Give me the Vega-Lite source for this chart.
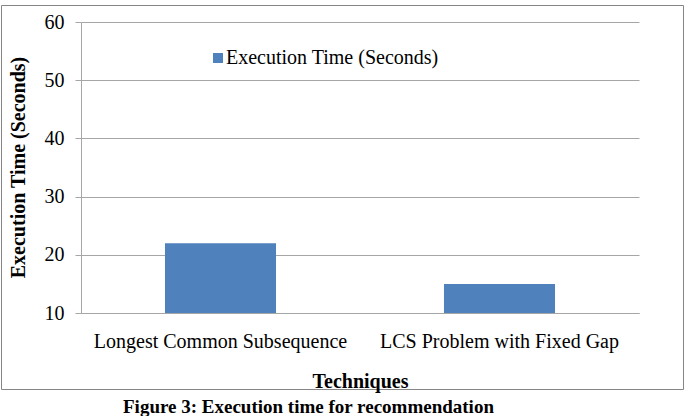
{
  "$schema": "https://vega.github.io/schema/vega-lite/v6.json",
  "width": 682,
  "height": 384,
  "padding": {"left": 1, "top": 5, "right": 4, "bottom": 2},
  "background": "white",
  "title": {
    "text": "Figure 3: Execution time for recommendation",
    "orient": "bottom",
    "anchor": "start",
    "dx": 122,
    "offset": 7,
    "font": "Liberation Serif",
    "fontSize": 19,
    "fontWeight": "bold",
    "color": "#000000"
  },
  "data": {
    "values": [
      {"technique": "Longest Common Subsequence", "time": 22, "series": "Execution Time (Seconds)"},
      {"technique": "LCS Problem with Fixed Gap", "time": 15, "series": "Execution Time (Seconds)"}
    ]
  },
  "mark": {"type": "bar"},
  "encoding": {
    "x": {
      "field": "technique",
      "type": "nominal",
      "sort": null,
      "scale": {"range": [80, 638], "paddingInner": 0.602, "paddingOuter": 0.301},
      "axis": {
        "orient": "bottom",
        "offset": -76,
        "ticks": false,
        "domainColor": "#a6a6a6",
        "labelAngle": 0,
        "labelLimit": 0,
        "labelPadding": 18,
        "labelFont": "Liberation Serif",
        "labelFontSize": 20,
        "labelColor": "#000000",
        "title": "Techniques",
        "titleFont": "Liberation Serif",
        "titleFontSize": 20,
        "titleFontWeight": "bold",
        "titleColor": "#000000",
        "titleY": 68,
        "titleBaseline": "middle"
      }
    },
    "y": {
      "field": "time",
      "type": "quantitative",
      "scale": {"domain": [10, 60], "range": [308, 17], "zero": false, "nice": false},
      "axis": {
        "orient": "left",
        "offset": -80,
        "values": [10, 20, 30, 40, 50, 60],
        "grid": true,
        "gridColor": "#a6a6a6",
        "domainColor": "#a6a6a6",
        "tickColor": "#a6a6a6",
        "tickSize": 6,
        "labelPadding": 11,
        "labelFont": "Liberation Serif",
        "labelFontSize": 20,
        "labelColor": "#000000",
        "title": "Execution Time (Seconds)",
        "titleFont": "Liberation Serif",
        "titleFontSize": 20,
        "titleFontWeight": "bold",
        "titleColor": "#000000",
        "titleX": -63,
        "titleY": 162,
        "titleBaseline": "middle",
        "titleLimit": 0
      }
    },
    "y2": {"datum": 10},
    "color": {
      "field": "series",
      "type": "nominal",
      "scale": {"range": ["#4f81bd"]},
      "legend": {
        "orient": "none",
        "legendX": 207,
        "legendY": 43,
        "title": null,
        "symbolType": "square",
        "symbolSize": 100,
        "symbolStrokeWidth": 0,
        "labelLimit": 0,
        "labelFont": "Liberation Serif",
        "labelFontSize": 20,
        "labelColor": "#000000",
        "labelOffset": -2
      }
    }
  },
  "config": {"view": {"stroke": "#868686", "strokeWidth": 1}}
}
